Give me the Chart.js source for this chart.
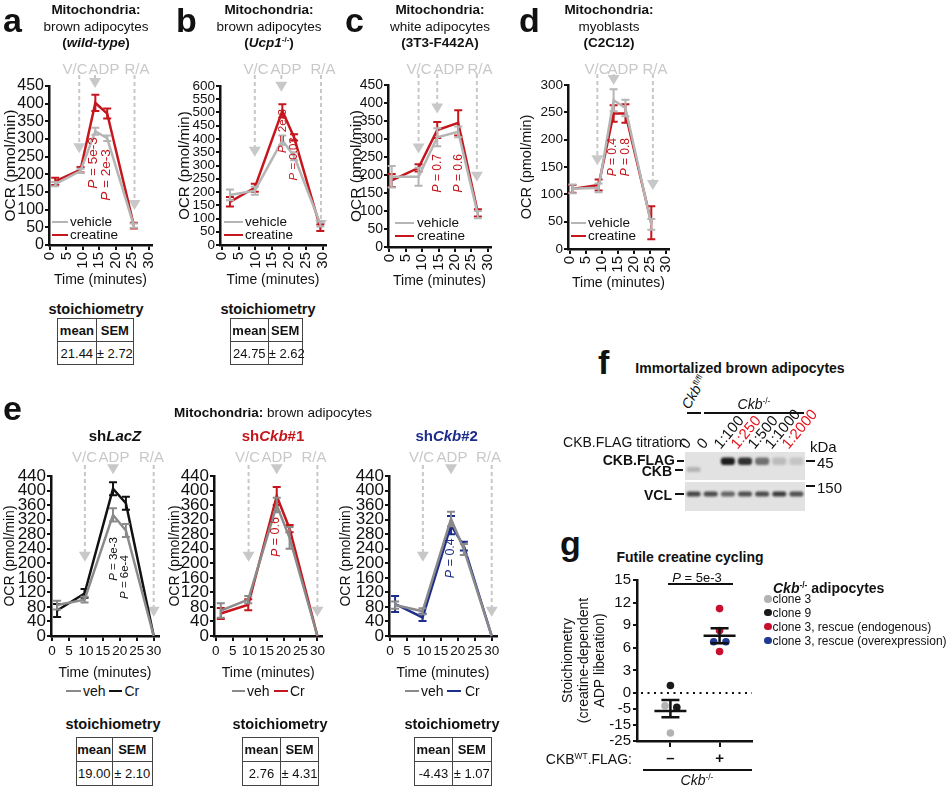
<!DOCTYPE html>
<html>
<head>
<meta charset="utf-8">
<title>Mitochondria OCR</title>
<script src="https://cdn.jsdelivr.net/npm/chart.js@4.4.1/dist/chart.umd.min.js"></script>
<style>
  body { margin: 0; background: #fff; }
  #fig { position: relative; width: 950px; height: 787px; overflow: hidden; background: #fff;
         font-family: "Liberation Sans", Arial, Helvetica, sans-serif; color: #111; }
  #fig canvas { position: absolute; }
  .t { position: absolute; white-space: nowrap; line-height: 1; }
  sup { font-size: 0.6em; vertical-align: 0.6em; line-height: 0; }
  table.st { position: absolute; border-collapse: collapse; font-size: 13px; table-layout: fixed; }
  table.st td { border: 1.5px solid #444; text-align: center; padding: 0; white-space: nowrap; }
</style>
</head>
<body>
<div id="fig"></div>
<script>
// ---- a: brown adipocytes (wild-type)
const timeA = [1.6, 9.3, 13.8, 17.4, 25.5];
const vehA = [172, 210, 322, 302, 55];
const vehSemA = [6, 6, 10, 8, 6];
const creA = [180, 213, 402, 372, 55];
const creSemA = [10, 8, 23, 14, 8];
const injA = [8.9, 13.7, 25.7];
const injTipA = [260, 444, 99];
const pTextA = ['5e-3', '2e-3'];
const pTimeA = [13.3, 17.1];
const pValA = [232, 198];

// ---- b: brown adipocytes (Ucp1-/-)
const timeB = [2.4, 9.8, 18, 21.5, 29.3];
const vehB = [189, 205, 395, 335, 80];
const vehSemB = [20, 15, 18, 15, 10];
const creB = [163, 216, 506, 406, 65];
const creSemB = [18, 15, 25, 12, 12];
const injB = [9.8, 17.7, 29.5];
const injTipB = [333, 578, 57];
const pTextB = ['2e-3', '0.03'];
const pTimeB = [18.2, 21.5];
const pValB = [430, 325];

// ---- c: white adipocytes (3T3-F442A)
const timeC = [0.7, 8.9, 14.6, 21, 27];
const vehC = [195, 195, 305, 320, 90];
const vehSemC = [30, 25, 25, 15, 10];
const creC = [185, 220, 325, 345, 95];
const creSemC = [18, 10, 22, 35, 10];
const injC = [8.9, 14.6, 26.7];
const injTipC = [260, 371, 181];
const pTextC = ['0.7', '0.6'];
const pTimeC = [14.6, 21.1];
const pValC = [205, 205];

// ---- d: myoblasts (C2C12)
const timeD = [0.8, 9, 13.7, 17.4, 25.5];
const vehD = [110, 112, 272, 258, 45];
const vehSemD = [8, 8, 20, 15, 10];
const creD = [110, 117, 248, 248, 48];
const creSemD = [7, 10, 15, 17, 30];
const injD = [8.6, 13.7, 26];
const injTipD = [153, 300, 108];
const pTextD = ['0.4', '0.8'];
const pTimeD = [13.5, 17.6];
const pValD = [168, 168];

// ---- e: shLacZ / shCkb#1 / shCkb#2
const timeE = [1.5, 9.6, 18, 21.8, 30];
const injE = [9.7, 18, 30];
const injTipE = [204, 445, 53];
const vehE1 = [85, 100, 333, 290, 0];
const vehSemE1 = [12, 8, 18, 18, 0];
const crE1 = [70, 117, 405, 365, 0];
const crSemE1 = [18, 12, 18, 18, 0];
const vehE2 = [70, 100, 360, 270, 0];
const vehSemE2 = [20, 10, 20, 30, 0];
const crE2 = [62, 86, 385, 295, 0];
const crSemE2 = [15, 15, 25, 10, 0];
const vehE3 = [85, 68, 322, 238, 0];
const vehSemE3 = [10, 8, 20, 15, 0];
const crE3 = [88, 51, 305, 247, 0];
const crSemE3 = [22, 10, 25, 12, 0];
const pTextE1 = ['3e-3', '6e-4'];
const pTimeE1 = [18.1, 21.5];
const pValE1 = [212, 162];
const pTextE2 = ['0.6'];
const pTimeE2 = [17.8];
const pValE2 = [272];
const pTextE3 = ['0.4'];
const pTimeE3 = [17.9];
const pValE3 = [214];

const injLabels = ['V/C', 'ADP', 'R/A'];
const timeTicks = [0, 5, 10, 15, 20, 25, 30];

// stoichiometry tables: a, b, e1, e2, e3
const stoichMean = [21.44, 24.75, 19.00, 2.76, -4.43];
const stoichSem = [2.72, 2.62, 2.10, 4.31, 1.07];

// ---- f: western blot
const laneLabels = ['0', '0', '1:100', '1:250', '1:500', '1:1000', '1:2000'];
const laneRed = [false, false, false, true, false, false, true];
const flagBand = [0, 0, 0.95, 0.85, 0.55, 0.18, 0.14];
const ckbBand = [0.22, 0, 0, 0, 0, 0, 0];
const vclBand = [0.75, 0.72, 0.6, 0.7, 0.72, 0.8, 0.7];

// ---- g: futile creatine cycling
const gGroups = ['–', '+'];
const gCloneNames = ['clone 3', 'clone 9', 'clone 3, rescue (endogenous)', 'clone 3, rescue (overexpression)'];
const gCloneColors = ['#b3b3b3', '#1a1a1a', '#c8102e', '#1f3a93'];
const gMinusVals = [1, -4, -4.5, -20];
const gMinusClone = [1, 0, 1, 0];
const gMinusJitter = [0, -0.11, 0.13, 0];
const gPlusVals = [11.2, 8.3, 6.8, 6.8, 5.5];
const gPlusClone = [2, 2, 3, 3, 2];
const gPlusJitter = [0, 0, -0.12, 0.13, 0];
const gMean = [-6.2, 7.6];
const gSem = [4.0, 1.0];
const gTickVals = [-25, -15, -5, 0, 3, 6, 9, 12, 15];

const RED = '#c4161c';
const BLUE = '#1d2d8a';
const GREY = '#b5b5b5';
const GREY_E = '#8a8a8a';
const BLACK = '#111111';
const ARROW = '#c8c8c8';
const FONT = '"Liberation Sans", Arial, Helvetica, sans-serif';

Chart.defaults.font.family = FONT;
Chart.defaults.color = '#111';

const fig = document.getElementById('fig');

function put(html, x, y, o = {}) {
  const d = document.createElement('div');
  d.className = 't';
  d.innerHTML = html;
  d.style.fontSize = (o.size || 14) + 'px';
  if (o.bold) d.style.fontWeight = 'bold';
  if (o.italic) d.style.fontStyle = 'italic';
  if (o.color) d.style.color = o.color;
  d.style.left = x + 'px';
  d.style.top = y + 'px';
  const tx = o.anchor === 'l' ? '0' : o.anchor === 'r' ? '-100%' : '-50%';
  d.style.transform = `translate(${tx}, -50%)`;
  fig.appendChild(d);
  return d;
}

function putRot(html, x, yb, deg, size, color) {
  const d = document.createElement('div');
  d.className = 't';
  d.innerHTML = html;
  d.style.fontSize = size + 'px';
  d.style.left = x + 'px';
  d.style.top = (yb - size) + 'px';
  d.style.transformOrigin = '0 100%';
  d.style.transform = `rotate(${deg}deg)`;
  if (color) d.style.color = color;
  fig.appendChild(d);
}

function hline(x1, x2, y, w, color) {
  const d = document.createElement('div');
  d.style.cssText = `position:absolute;left:${x1}px;top:${y - w / 2}px;width:${x2 - x1}px;height:${w}px;background:${color || BLACK}`;
  fig.appendChild(d);
}

function letter(l, x, baseline) {
  put(l, x, baseline - 11.8, { anchor: 'l', bold: true, size: 34 });
}

function makeCanvas(left, top, w, h) {
  const c = document.createElement('canvas');
  c.width = w;
  c.height = h;
  c.style.left = left + 'px';
  c.style.top = top + 'px';
  c.style.width = w + 'px';
  c.style.height = h + 'px';
  fig.appendChild(c);
  return c;
}

function stoich(i, x, y, w1, w2, rowH) {
  const t = document.createElement('table');
  t.className = 'st';
  t.style.left = x + 'px';
  t.style.top = y + 'px';
  t.style.width = (w1 + w2) + 'px';
  const m = stoichMean[i].toFixed(2);
  const s = '± ' + stoichSem[i].toFixed(2);
  t.innerHTML = `<colgroup><col style="width:${w1}px"><col style="width:${w2}px"></colgroup>
    <tr style="height:${rowH}px"><td style="font-weight:bold">mean</td><td style="font-weight:bold">SEM</td></tr>
    <tr style="height:${rowH}px"><td>${m}</td><td>${s}</td></tr>`;
  fig.appendChild(t);
}

// time course panel
function timeChart(p) {
  const g = p.geo;
  const left = Math.round(g.titleX - g.yTitleSize * 0.6);
  const top = Math.round(g.top - 26);
  const W = g.x0 - left;
  const xmin = (g.x0 - g.t0) / g.ppm;
  const x1 = g.t0 + g.xmax * g.ppm;
  const width = Math.ceil(W + (x1 - g.x0) + 10);
  const padRight = width - W - (x1 - g.x0);
  const height = Math.round(g.titleY + 8.4 - top);
  const H = height - (g.bottom - top);
  const cv = makeCanvas(left, top, width, height);

  const marks = {
    id: 'marks',
    beforeDatasetsDraw(chart) {
      const { ctx, chartArea, scales: { x, y } } = chart;
      ctx.save();
      ctx.strokeStyle = ARROW;
      ctx.fillStyle = ARROW;
      ctx.lineWidth = 2;
      p.inj.forEach((t, i) => {
        const px = x.getPixelForValue(t);
        const tip = y.getPixelForValue(p.tips[i]);
        const y0 = chartArea.top - 11;
        ctx.setLineDash([4, 3]);
        ctx.beginPath();
        ctx.moveTo(px, y0);
        ctx.lineTo(px, tip - 9);
        ctx.stroke();
        ctx.setLineDash([]);
        ctx.beginPath();
        ctx.moveTo(px - 6, tip - 10);
        ctx.lineTo(px + 6, tip - 10);
        ctx.lineTo(px, tip);
        ctx.closePath();
        ctx.fill();
      });
      ctx.restore();
    },
    afterDatasetDraw(chart, args) {
      const { ctx, scales: { x, y } } = chart;
      const ds = chart.data.datasets[args.index];
      ctx.save();
      ctx.strokeStyle = ds.borderColor;
      ctx.lineWidth = 2;
      ds.data.forEach((pt, i) => {
        const s = ds.sem[i];
        if (!s) return;
        const px = x.getPixelForValue(pt.x);
        const yt = y.getPixelForValue(pt.y + s);
        const yb = y.getPixelForValue(pt.y - s);
        ctx.beginPath();
        ctx.moveTo(px, yt); ctx.lineTo(px, yb);
        ctx.moveTo(px - 4, yt); ctx.lineTo(px + 4, yt);
        ctx.moveTo(px - 4, yb); ctx.lineTo(px + 4, yb);
        ctx.stroke();
      });
      ctx.restore();
    },
    afterDatasetsDraw(chart) {
      const { ctx, scales: { x, y } } = chart;
      ctx.save();
      ctx.fillStyle = p.pColor;
      ctx.textBaseline = 'middle';
      ctx.textAlign = 'left';
      const fi = `italic ${p.pSize}px ` + FONT;
      const fn = `${p.pSize}px ` + FONT;
      p.pText.forEach((txt, i) => {
        const px = x.getPixelForValue(p.pTime[i]);
        const py = y.getPixelForValue(p.pVal[i]);
        const rest = ' = ' + txt;
        ctx.font = fi;
        const w1 = ctx.measureText('P').width;
        ctx.font = fn;
        const w2 = ctx.measureText(rest).width;
        ctx.save();
        ctx.translate(px, py);
        ctx.rotate(-Math.PI / 2);
        ctx.font = fi;
        ctx.fillText('P', -(w1 + w2) / 2, 0);
        ctx.font = fn;
        ctx.fillText(rest, -(w1 + w2) / 2 + w1, 0);
        ctx.restore();
      });
      ctx.restore();
    }
  };

  const chart = new Chart(cv, {
    type: 'line',
    data: {
      datasets: [
        { label: p.names[0], data: p.times.map((t, i) => ({ x: t, y: p.ctrl[i] })), sem: p.ctrlSem,
          borderColor: p.ctrlColor, borderWidth: 2.5, pointRadius: 0, clip: false },
        { label: p.names[1], data: p.times.map((t, i) => ({ x: t, y: p.trt[i] })), sem: p.trtSem,
          borderColor: p.color, borderWidth: 2.5, pointRadius: 0, clip: false }
      ]
    },
    options: {
      responsive: false,
      animation: false,
      devicePixelRatio: 1,
      events: [],
      layout: { padding: { top: g.top - top, right: padRight, left: 0, bottom: 0 } },
      plugins: { legend: { display: false }, tooltip: { enabled: false } },
      scales: {
        x: {
          type: 'linear', min: xmin, max: g.xmax,
          afterBuildTicks: s => { s.ticks = timeTicks.map(v => ({ value: v })); },
          afterFit: s => { s.height = H; },
          ticks: { autoSkip: false, maxRotation: p.xRot, minRotation: p.xRot, padding: 2, color: BLACK,
                   font: { size: p.xTickSize } },
          grid: { drawOnChartArea: false, drawTicks: true, tickLength: 5, color: BLACK, lineWidth: 2 },
          border: { display: true, color: BLACK, width: 2.5 },
          title: { display: true, text: 'Time (minutes)', color: BLACK, font: { size: 14 }, padding: 0 }
        },
        y: {
          min: 0, max: p.ymax,
          afterFit: s => { s.width = W; },
          ticks: { stepSize: p.ystep, autoSkip: false, padding: 1, color: BLACK, font: { size: p.yTickSize } },
          grid: { drawOnChartArea: false, drawTicks: true, tickLength: 4, color: BLACK, lineWidth: 2 },
          border: { display: true, color: BLACK, width: 2.5 },
          title: { display: true, text: 'OCR (pmol/min)', color: BLACK, font: { size: g.yTitleSize }, padding: 0 }
        }
      }
    },
    plugins: [marks]
  });

  // injection labels
  p.injX.forEach((lx, i) => put(injLabels[i], lx, p.injY, { size: 15, color: ARROW }));
  return chart;
}

const adNames = ['vehicle', 'creatine'];
const eNames = ['veh', 'Cr'];

const panels = [
  { key: 'a', names: adNames, times: timeA, ctrl: vehA, ctrlSem: vehSemA, trt: creA, trtSem: creSemA,
    color: RED, ctrlColor: GREY, ymax: 450, ystep: 50, inj: injA, tips: injTipA,
    pText: pTextA, pTime: pTimeA, pVal: pValA, pColor: RED, pSize: 13.5, xRot: 90, xTickSize: 15, yTickSize: 16,
    injX: [75, 104, 137], injY: 68,
    geo: { x0: 49, t0: 50, ppm: 3.5, xmax: 31, top: 86, bottom: 245, titleX: 10, titleY: 281, yTitleSize: 15.5 } },
  { key: 'b', names: adNames, times: timeB, ctrl: vehB, ctrlSem: vehSemB, trt: creB, trtSem: creSemB,
    color: RED, ctrlColor: GREY, ymax: 600, ystep: 50, inj: injB, tips: injTipB,
    pText: pTextB, pTime: pTimeB, pVal: pValB, pColor: RED, pSize: 11.5, xRot: 90, xTickSize: 15, yTickSize: 13.5,
    injX: [256, 286, 323], injY: 68,
    geo: { x0: 220, t0: 222, ppm: 3.55, xmax: 31, top: 86, bottom: 245, titleX: 185, titleY: 281, yTitleSize: 15 } },
  { key: 'c', names: adNames, times: timeC, ctrl: vehC, ctrlSem: vehSemC, trt: creC, trtSem: creSemC,
    color: RED, ctrlColor: GREY, ymax: 450, ystep: 50, inj: injC, tips: injTipC,
    pText: pTextC, pTime: pTimeC, pVal: pValC, pColor: RED, pSize: 12, xRot: 90, xTickSize: 15, yTickSize: 14,
    injX: [419, 449, 480], injY: 68,
    geo: { x0: 388, t0: 389.5, ppm: 3.5, xmax: 31, top: 85, bottom: 247, titleX: 356.7, titleY: 282, yTitleSize: 15.5 } },
  { key: 'd', names: adNames, times: timeD, ctrl: vehD, ctrlSem: vehSemD, trt: creD, trtSem: creSemD,
    color: RED, ctrlColor: GREY, ymax: 300, ystep: 50, inj: injD, tips: injTipD,
    pText: pTextD, pTime: pTimeD, pVal: pValD, pColor: RED, pSize: 12, xRot: 90, xTickSize: 15, yTickSize: 13.5,
    injX: [597, 623, 655], injY: 68,
    geo: { x0: 568, t0: 570, ppm: 3.4, xmax: 31, top: 85, bottom: 249, titleX: 526.7, titleY: 284, yTitleSize: 14.5 } },
  { key: 'e1', names: eNames, times: timeE, ctrl: vehE1, ctrlSem: vehSemE1, trt: crE1, trtSem: crSemE1,
    color: BLACK, ctrlColor: GREY_E, ymax: 440, ystep: 40, inj: injE, tips: injTipE,
    pText: pTextE1, pTime: pTimeE1, pVal: pValE1, pColor: BLACK, pSize: 11.5, xRot: 0, xTickSize: 13.5, yTickSize: 17,
    injX: [84.5, 114, 151.5], injY: 456,
    geo: { x0: 51, t0: 52, ppm: 3.39, xmax: 31.5, top: 476, bottom: 636, titleX: 10, titleY: 674, yTitleSize: 14 } },
  { key: 'e2', names: eNames, times: timeE, ctrl: vehE2, ctrlSem: vehSemE2, trt: crE2, trtSem: crSemE2,
    color: RED, ctrlColor: GREY_E, ymax: 440, ystep: 40, inj: injE, tips: injTipE,
    pText: pTextE2, pTime: pTimeE2, pVal: pValE2, pColor: RED, pSize: 12.5, xRot: 0, xTickSize: 13.5, yTickSize: 17,
    injX: [247.5, 277, 314], injY: 456,
    geo: { x0: 214, t0: 215.7, ppm: 3.39, xmax: 31.5, top: 476, bottom: 636, titleX: 175, titleY: 674, yTitleSize: 14 } },
  { key: 'e3', names: eNames, times: timeE, ctrl: vehE3, ctrlSem: vehSemE3, trt: crE3, trtSem: crSemE3,
    color: BLUE, ctrlColor: GREY_E, ymax: 440, ystep: 40, inj: injE, tips: injTipE,
    pText: pTextE3, pTime: pTimeE3, pVal: pValE3, pColor: BLUE, pSize: 12.5, xRot: 0, xTickSize: 13.5, yTickSize: 17,
    injX: [421.5, 452, 488.5], injY: 456,
    geo: { x0: 389, t0: 390, ppm: 3.39, xmax: 31.5, top: 476, bottom: 636, titleX: 346.7, titleY: 674, yTitleSize: 14 } }
];

panels.forEach(timeChart);

// ---- headers a-d
letter('a', 3, 32);
letter('b', 176, 32);
letter('c', 345, 32);
letter('d', 519, 32);
const heads = [
  [96, 'brown adipocytes', '(<i>wild-type</i>)'],
  [269, 'brown adipocytes', '(<i>Ucp1</i><sup>-/-</sup>)'],
  [440, 'white adipocytes', '(3T3-F442A)'],
  [609, 'myoblasts', '(C2C12)']
];
heads.forEach(h => {
  put('Mitochondria:', h[0], 10, { bold: true, size: 13.5 });
  put(h[1], h[0], 27, { size: 13.5 });
  put(h[2], h[0], 43, { bold: true, size: 13.5 });
});

// legends a-d
[[52, 68, 70, 222, 235], [224, 243, 245, 222, 235], [395, 414, 417, 223, 236], [571, 586, 588, 223, 236]]
  .forEach(l => {
    hline(l[0], l[1], l[3], 2.5, GREY);
    put(adNames[0], l[2], l[3], { anchor: 'l', size: 13.5 });
    hline(l[0], l[1], l[4], 2.5, RED);
    put(adNames[1], l[2], l[4], { anchor: 'l', size: 13.5 });
  });

// stoichiometry a, b
put('stoichiometry', 96, 309, { bold: true, size: 14.5 });
put('stoichiometry', 268, 309, { bold: true, size: 14.5 });
stoich(0, 57, 318, 38.7, 37.3, 23);
stoich(1, 230, 318, 37.7, 34, 23);

// ---- e headers
letter('e', 3, 420);
put('<b>Mitochondria:</b> brown adipocytes', 273, 413, { size: 13.5 });
put('sh<i>LacZ</i>', 115, 435, { bold: true, size: 15 });
put('sh<i>Ckb</i>#1', 273, 435, { bold: true, size: 15, color: RED });
put('sh<i>Ckb</i>#2', 446.7, 435, { bold: true, size: 15, color: BLUE });

// e legends
[[66, 81, 83, 109, 122, 124.5, BLACK], [231.5, 245, 247, 274, 287.5, 290, RED], [404.5, 419, 421, 447, 461, 465, BLUE]]
  .forEach(l => {
    hline(l[0], l[1], 691, 2.5, GREY_E);
    put(eNames[0], l[2], 691, { anchor: 'l', size: 14 });
    hline(l[3], l[4], 691, 2.5, l[6]);
    put(eNames[1], l[5], 691, { anchor: 'l', size: 14 });
  });
put('stoichiometry', 113, 724, { bold: true, size: 14.5 });
put('stoichiometry', 280, 724, { bold: true, size: 14.5 });
put('stoichiometry', 452, 724, { bold: true, size: 14.5 });
stoich(2, 75.5, 737, 36.5, 39.5, 24);
stoich(3, 242, 737, 38, 38, 24);
stoich(4, 414, 737, 38, 38.5, 24);

// ---- f: blot
letter('f', 598, 374);
put('Immortalized brown adipocytes', 740, 368, { bold: true, size: 14 });
putRot('<i>Ckb</i><sup>fl/fl</sup>', 691, 411, -60, 14);
hline(687, 701, 413, 2);
put('<i>Ckb</i><sup>-/-</sup>', 754, 404, { size: 14 });
hline(704, 804, 413, 2);
put('CKB.FLAG titration:', 686, 442, { anchor: 'r', size: 14 });
put('kDa', 810, 446, { anchor: 'l', size: 15 });

const blotRows = { flag: [5.5, 13], ckb: [15, 20], vcl: [39.5, 44.5], topBox: [0, 28], lowBox: [30, 59] };
const blotLeft = 685, blotTop = 452;
const blotBg = {
  id: 'blotBg',
  beforeDatasetsDraw(chart) {
    const { ctx, chartArea, scales: { y } } = chart;
    ctx.save();
    ctx.fillStyle = '#e2e2e2';
    [blotRows.topBox, blotRows.lowBox].forEach(r => {
      const y1 = y.getPixelForValue(r[0]), y2 = y.getPixelForValue(r[1]);
      ctx.fillRect(chartArea.left, y1, chartArea.right - chartArea.left, y2 - y1);
    });
    ctx.restore();
    ctx.save();
    ctx.filter = 'blur(1.1px)';
  },
  afterDatasetsDraw(chart) {
    chart.ctx.restore();
  }
};
const blotCanvas = makeCanvas(blotLeft, blotTop, 120, 59);
const bandColor = a => `rgba(18,18,18,${a})`;
const blotChart = new Chart(blotCanvas, {
  type: 'bar',
  data: {
    labels: laneLabels,
    datasets: [
      { label: 'CKB.FLAG', data: flagBand.map(() => blotRows.flag), backgroundColor: flagBand.map(bandColor) },
      { label: 'CKB', data: ckbBand.map(() => blotRows.ckb), backgroundColor: ckbBand.map(bandColor) },
      { label: 'VCL', data: vclBand.map(() => blotRows.vcl), backgroundColor: vclBand.map(bandColor) }
    ]
  },
  options: {
    responsive: false, animation: false, devicePixelRatio: 1, events: [],
    layout: { padding: 0 },
    datasets: { bar: { grouped: false, barPercentage: 0.82, categoryPercentage: 1, borderRadius: 3, borderSkipped: false } },
    plugins: { legend: { display: false }, tooltip: { enabled: false } },
    scales: { x: { display: false }, y: { display: false, min: 0, max: 59, reverse: true } }
  },
  plugins: [blotBg]
});
laneLabels.forEach((l, i) => {
  const lx = blotLeft + blotChart.scales.x.getPixelForValue(i);
  putRot(l, lx - 6, 451, -50, 15, laneRed[i] ? '#e8141c' : BLACK);
});
put('CKB.FLAG', 675, 460, { anchor: 'r', bold: true, size: 14 });
hline(677, 684, 461, 1.5);
put('CKB', 672, 471, { anchor: 'r', bold: true, size: 14 });
hline(675, 683, 470, 1.5);
put('VCL', 672, 495, { anchor: 'r', bold: true, size: 14 });
hline(675, 684, 494, 1.5);
hline(806, 815, 461, 1.5);
put('45', 817, 462, { anchor: 'l', size: 15 });
hline(806, 815, 486, 1.5);
put('150', 817, 487, { anchor: 'l', size: 15 });

// ---- g: stoichiometry scatter with broken y axis
function toAxis(v) {
  if (v >= 0) return v;
  if (v >= -5) return v * 0.425;
  return -2.125 + (v + 5) * 0.2125;
}
const gData = gCloneNames.map(() => []);
gMinusVals.forEach((v, i) => gData[gMinusClone[i]].push({ x: 1 + gMinusJitter[i], y: toAxis(v) }));
gPlusVals.forEach((v, i) => gData[gPlusClone[i]].push({ x: 2 + gPlusJitter[i], y: toAxis(v) }));

const gMarks = {
  id: 'gMarks',
  beforeDatasetsDraw(chart) {
    const { ctx, chartArea, scales: { y } } = chart;
    const py = y.getPixelForValue(0);
    ctx.save();
    ctx.strokeStyle = BLACK;
    ctx.lineWidth = 2;
    ctx.setLineDash([2, 4.5]);
    ctx.beginPath();
    ctx.moveTo(chartArea.left + 4, py);
    ctx.lineTo(chartArea.right, py);
    ctx.stroke();
    ctx.restore();
  },
  afterDatasetsDraw(chart) {
    const { ctx, scales: { x, y } } = chart;
    ctx.save();
    ctx.strokeStyle = BLACK;
    ctx.lineWidth = 2.5;
    gMean.forEach((m, i) => {
      const px = x.getPixelForValue(i + 1);
      const pm = y.getPixelForValue(toAxis(m));
      const pt = y.getPixelForValue(toAxis(m + gSem[i]));
      const pb = y.getPixelForValue(toAxis(m - gSem[i]));
      ctx.beginPath();
      ctx.moveTo(px - 16, pm); ctx.lineTo(px + 16, pm);
      ctx.moveTo(px, pt); ctx.lineTo(px, pb);
      ctx.moveTo(px - 9, pt); ctx.lineTo(px + 9, pt);
      ctx.moveTo(px - 9, pb); ctx.lineTo(px + 9, pb);
      ctx.stroke();
    });
    ctx.restore();
  }
};

const gCanvas = makeCanvas(560, 569, 198, 202);
new Chart(gCanvas, {
  type: 'scatter',
  data: {
    datasets: gCloneNames.map((n, k) => ({
      label: n, data: gData[k], backgroundColor: gCloneColors[k], borderWidth: 0, pointRadius: 3.8
    }))
  },
  options: {
    responsive: false, animation: false, devicePixelRatio: 1, events: [],
    layout: { padding: { top: 10, right: 6, left: 0, bottom: 0 } },
    plugins: { legend: { display: false }, tooltip: { enabled: false } },
    scales: {
      x: {
        type: 'linear', min: 0.32, max: 2.66,
        afterBuildTicks: s => { s.ticks = [{ value: 1 }, { value: 2 }]; },
        afterFit: s => { s.height = 30; },
        ticks: { autoSkip: false, padding: 3, color: BLACK, font: { size: 15, weight: 'bold' },
                 callback: v => gGroups[Math.round(v) - 1] },
        grid: { drawOnChartArea: false, drawTicks: true, tickLength: 6, color: BLACK, lineWidth: 2 },
        border: { display: true, color: BLACK, width: 2.5 }
      },
      y: {
        min: toAxis(-25), max: 15,
        afterBuildTicks: s => { s.ticks = gTickVals.map(v => ({ value: toAxis(v) })); },
        afterFit: s => { s.width = 77; },
        ticks: { autoSkip: false, padding: 2, color: BLACK, font: { size: 15 },
                 callback: (v, i) => String(gTickVals[i]) },
        grid: { drawOnChartArea: false, drawTicks: true, tickLength: 4, color: BLACK, lineWidth: 2 },
        border: { display: true, color: BLACK, width: 2.5 },
        title: { display: true, text: ['Stoichiometry', '(creatine-dependent', 'ADP liberation)'],
                 color: BLACK, font: { size: 14, lineHeight: 1.15 }, padding: 0 }
      }
    }
  },
  plugins: [gMarks]
});

letter('g', 560, 555);
put('Futile creatine cycling', 690, 557, { bold: true, size: 14 });
put('<i>P</i> = 5e-3', 697, 577, { size: 13 });
hline(668, 733, 584, 1.5);
put('<i>Ckb</i><sup>-/-</sup> adipocytes', 773, 588, { anchor: 'l', bold: true, size: 14 });
[599, 612.5, 626.5, 640.5].forEach((ly, k) => {
  const dot = document.createElement('div');
  dot.style.cssText = `position:absolute;left:${768 - 3.8}px;top:${ly - 3.8}px;width:7.6px;height:7.6px;border-radius:50%;background:${gCloneColors[k]}`;
  fig.appendChild(dot);
  put(gCloneNames[k], 772.5, ly, { anchor: 'l', size: 12 });
});
put('CKB<sup>WT</sup>.FLAG:', 632, 759, { anchor: 'r', size: 14 });
hline(643, 752, 770, 2);
put('<i>Ckb</i><sup>-/-</sup>', 697, 780, { size: 14 });
</script>
</body>
</html>
